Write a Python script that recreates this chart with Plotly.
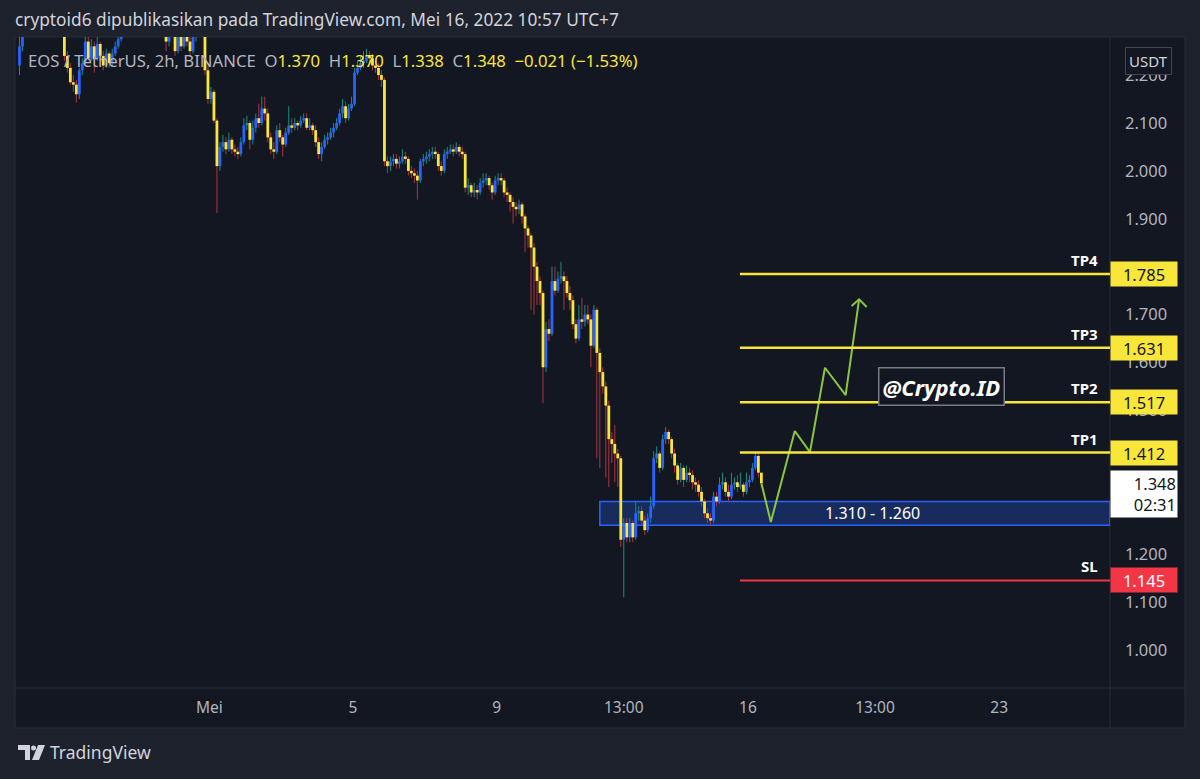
import plotly.graph_objects as go
import pandas as pd

# ---------------- data (EOS/USDT, 2h, BINANCE) ----------------
bar_start = "2022-04-25 17:00"
first_open = 2.22
close = [
    2.26, 2.30, 2.33, 2.36, 2.34, 2.38, 2.41, 2.39, 2.42, 2.40, 2.37, 2.39,
    2.36, 2.38, 2.33, 2.24, 2.215, 2.185, 2.18, 2.16, 2.21, 2.225, 2.27, 2.235,
    2.26, 2.235, 2.265, 2.24, 2.22, 2.245, 2.225, 2.245, 2.26, 2.275, 2.29, 2.31,
    2.34, 2.33, 2.36, 2.38, 2.35, 2.37, 2.40, 2.38, 2.36, 2.37, 2.34, 2.32,
    2.33, 2.27, 2.29, 2.30, 2.25, 2.28, 2.26, 2.29, 2.27, 2.25, 2.28, 2.29,
    2.31, 2.30, 2.21, 2.15, 2.165, 2.105, 2.01, 2.05, 2.06, 2.045, 2.065, 2.045,
    2.04, 2.035, 2.06, 2.095, 2.10, 2.065, 2.09, 2.11, 2.10, 2.13, 2.12, 2.07,
    2.045, 2.04, 2.085, 2.07, 2.055, 2.08, 2.095, 2.09, 2.10, 2.095, 2.105, 2.11,
    2.09, 2.095, 2.085, 2.06, 2.035, 2.05, 2.065, 2.07, 2.08, 2.09, 2.10, 2.12,
    2.135, 2.11, 2.13, 2.14, 2.205, 2.215, 2.225, 2.23, 2.24, 2.235, 2.22, 2.215,
    2.20, 2.19, 2.02, 2.01, 2.02, 2.025, 2.015, 2.02, 2.03, 2.025, 2.00, 1.995,
    1.99, 1.98, 2.02, 2.025, 2.03, 2.035, 2.04, 2.035, 2.01, 2.00, 2.035, 2.04,
    2.045, 2.04, 2.05, 2.04, 2.035, 1.965, 1.97, 1.955, 1.96, 1.955, 1.975, 1.98,
    1.985, 1.97, 1.955, 1.98, 1.985, 1.98, 1.955, 1.95, 1.935, 1.925, 1.92, 1.93,
    1.905, 1.88, 1.865, 1.84, 1.80, 1.77, 1.745, 1.59, 1.67, 1.66, 1.77, 1.75,
    1.775, 1.78, 1.77, 1.745, 1.73, 1.68, 1.65, 1.69, 1.685, 1.70, 1.69, 1.635,
    1.71, 1.62, 1.58, 1.55, 1.51, 1.44, 1.43, 1.41, 1.40, 1.23, 1.265, 1.235,
    1.265, 1.235, 1.285, 1.29, 1.27, 1.25, 1.275, 1.30, 1.40, 1.41, 1.38, 1.44,
    1.455, 1.44, 1.41, 1.385, 1.355, 1.38, 1.355, 1.37, 1.365, 1.35, 1.345, 1.33,
    1.31, 1.285, 1.275, 1.27, 1.32, 1.31, 1.345, 1.35, 1.33, 1.32, 1.345, 1.35,
    1.34, 1.345, 1.33, 1.35, 1.355, 1.38, 1.405, 1.37, 1.348,
]
high = [
    2.28, 2.32, 2.35, 2.38, 2.37, 2.40, 2.43, 2.42, 2.44, 2.43, 2.41, 2.40,
    2.40, 2.39, 2.39, 2.34, 2.25, 2.225, 2.20, 2.19, 2.215, 2.235, 2.28, 2.28,
    2.275, 2.27, 2.28, 2.27, 2.25, 2.255, 2.25, 2.255, 2.27, 2.285, 2.30, 2.32,
    2.35, 2.35, 2.37, 2.39, 2.39, 2.38, 2.41, 2.41, 2.39, 2.38, 2.38, 2.35,
    2.34, 2.34, 2.30, 2.31, 2.31, 2.29, 2.29, 2.30, 2.30, 2.28, 2.29, 2.30,
    2.32, 2.32, 2.31, 2.22, 2.175, 2.17, 2.11, 2.06, 2.075, 2.07, 2.08, 2.07,
    2.055, 2.05, 2.07, 2.11, 2.115, 2.105, 2.105, 2.12, 2.14, 2.155, 2.155, 2.13,
    2.08, 2.06, 2.095, 2.10, 2.075, 2.09, 2.135, 2.11, 2.11, 2.105, 2.115, 2.12,
    2.12, 2.11, 2.10, 2.095, 2.07, 2.06, 2.075, 2.08, 2.09, 2.10, 2.11, 2.13,
    2.15, 2.145, 2.14, 2.155, 2.215, 2.23, 2.24, 2.25, 2.255, 2.25, 2.245, 2.23,
    2.225, 2.21, 2.195, 2.03, 2.03, 2.035, 2.035, 2.03, 2.045, 2.04, 2.03, 2.01,
    2.005, 2.00, 2.025, 2.035, 2.04, 2.045, 2.05, 2.05, 2.04, 2.02, 2.045, 2.05,
    2.055, 2.055, 2.06, 2.055, 2.05, 2.04, 1.985, 1.975, 1.975, 1.97, 1.985, 1.995,
    1.995, 1.99, 1.975, 1.99, 1.995, 1.995, 1.985, 1.965, 1.955, 1.945, 1.935, 1.94,
    1.935, 1.91, 1.885, 1.87, 1.85, 1.81, 1.78, 1.75, 1.685, 1.69, 1.80, 1.80,
    1.79, 1.81, 1.79, 1.78, 1.76, 1.74, 1.69, 1.72, 1.735, 1.72, 1.72, 1.70,
    1.72, 1.715, 1.63, 1.59, 1.56, 1.52, 1.455, 1.47, 1.42, 1.405, 1.275, 1.275,
    1.275, 1.27, 1.31, 1.30, 1.30, 1.28, 1.285, 1.32, 1.415, 1.425, 1.415, 1.45,
    1.465, 1.46, 1.445, 1.42, 1.39, 1.39, 1.385, 1.385, 1.38, 1.375, 1.36, 1.355,
    1.34, 1.315, 1.295, 1.285, 1.33, 1.33, 1.36, 1.37, 1.36, 1.345, 1.37, 1.36,
    1.365, 1.37, 1.35, 1.37, 1.365, 1.39, 1.412, 1.41, 1.37,
]
low = [
    2.20, 2.25, 2.29, 2.32, 2.32, 2.33, 2.37, 2.38, 2.38, 2.39, 2.36, 2.35,
    2.35, 2.34, 2.31, 2.23, 2.205, 2.18, 2.165, 2.143, 2.15, 2.20, 2.22, 2.23,
    2.23, 2.205, 2.23, 2.23, 2.21, 2.215, 2.215, 2.22, 2.24, 2.255, 2.27, 2.285,
    2.30, 2.32, 2.32, 2.35, 2.34, 2.34, 2.36, 2.37, 2.35, 2.35, 2.33, 2.31,
    2.30, 2.25, 2.26, 2.28, 2.24, 2.245, 2.25, 2.255, 2.26, 2.24, 2.245, 2.27,
    2.285, 2.29, 2.20, 2.14, 2.14, 2.10, 1.912, 2.00, 2.04, 2.035, 2.04, 2.035,
    2.03, 2.025, 2.03, 2.055, 2.085, 2.045, 2.055, 2.08, 2.09, 2.095, 2.105, 2.06,
    2.035, 2.025, 2.035, 2.06, 2.03, 2.05, 2.075, 2.08, 2.085, 2.085, 2.09, 2.10,
    2.085, 2.085, 2.075, 2.05, 2.025, 2.02, 2.045, 2.055, 2.065, 2.07, 2.085, 2.095,
    2.11, 2.10, 2.105, 2.125, 2.135, 2.20, 2.21, 2.215, 2.225, 2.225, 2.21, 2.205,
    2.19, 2.175, 2.01, 1.995, 2.00, 2.01, 2.005, 2.005, 2.015, 2.015, 1.99, 1.985,
    1.975, 1.94, 1.975, 2.01, 2.015, 2.02, 2.025, 2.025, 2.00, 1.99, 1.995, 2.025,
    2.035, 2.03, 2.035, 2.03, 2.025, 1.955, 1.95, 1.945, 1.945, 1.94, 1.95, 1.965,
    1.97, 1.96, 1.94, 1.95, 1.97, 1.97, 1.945, 1.935, 1.915, 1.89, 1.905, 1.91,
    1.89, 1.83, 1.84, 1.71, 1.70, 1.72, 1.72, 1.515, 1.58, 1.645, 1.655, 1.74,
    1.745, 1.765, 1.71, 1.735, 1.71, 1.67, 1.64, 1.645, 1.67, 1.675, 1.68, 1.59,
    1.63, 1.40, 1.38, 1.535, 1.36, 1.34, 1.39, 1.35, 1.34, 1.215, 1.11, 1.225,
    1.225, 1.225, 1.23, 1.27, 1.26, 1.24, 1.245, 1.265, 1.295, 1.39, 1.37, 1.375,
    1.43, 1.43, 1.40, 1.37, 1.345, 1.35, 1.34, 1.35, 1.35, 1.335, 1.33, 1.32,
    1.30, 1.275, 1.265, 1.26, 1.265, 1.30, 1.305, 1.335, 1.32, 1.31, 1.315, 1.335,
    1.33, 1.335, 1.32, 1.325, 1.34, 1.35, 1.375, 1.36, 1.338,
]

# 1.800 is hidden behind the TP4 badge in the reference, so it is not listed
price_ticks = [1.0, 1.1, 1.2, 1.3, 1.4, 1.5, 1.6, 1.7, 1.9, 2.0, 2.1, 2.2]
time_ticks = ["2022-05-01", "2022-05-05", "2022-05-09", "2022-05-12 13:00",
              "2022-05-16", "2022-05-19 13:00", "2022-05-23"]
time_labels = ["Mei", "5", "9", "13:00", "16", "13:00", "23"]

level_names = ["TP4", "TP3", "TP2", "TP1", "SL"]
level_prices = [1.785, 1.631, 1.517, 1.412, 1.145]
level_start = "2022-05-15 18:40"
zone_low, zone_high = 1.260, 1.310
zone_start = "2022-05-11 21:00"
zone_label_time = "2022-05-19 11:30"

path_t = ["2022-05-16 09:00", "2022-05-16 15:20", "2022-05-17 07:20", "2022-05-17 17:30",
          "2022-05-18 03:30", "2022-05-18 17:20", "2022-05-19 02:20"]
path_p = [1.348, 1.267, 1.457, 1.413, 1.589, 1.532, 1.732]
head_t = ["2022-05-18 21:20", "2022-05-19 02:20", "2022-05-19 07:25"]
head_p = [1.718, 1.732, 1.716]

watermark_time, watermark_price = "2022-05-21 09:40", 1.549
last_price, countdown = 1.348, "02:31"

x_range = ["2022-04-25 16:00", "2022-05-26 02:05"]
y_range = [0.9205, 2.2795]

# ---------------- styling ----------------
PAGE_BG = "#1e222d"
PANE_BG = "#131722"
GRID = "#2a2e39"
TXT = "#b2b5be"
UP_BODY, DOWN_BODY = "#2962ff", "#f9e63b"
UP_WICK, DOWN_WICK = "#16907d", "#b3333d"
YELLOW = "#f9e63b"
RED = "#f23645"
FONT = "Noto Sans"

L, R, T, B = 18, 1110, 37, 688
def PX(x): return (x - L) / (R - L)
def PY(y): return (B - y) / (B - T)

times = pd.date_range(bar_start, periods=len(close), freq="2h")
opens = [first_open] + close[:-1]

wx = {True: [], False: []}
wy = {True: [], False: []}
bx = {True: [], False: []}
by = {True: [], False: []}
for t, o, h, l, c in zip(times, opens, high, low, close):
    up = c >= o
    wx[up] += [t, t, None]
    wy[up] += [l, h, None]
    bx[up] += [t, t, None]
    by[up] += [o, c, None]

fig = go.Figure()
for up, col in ((True, UP_WICK), (False, DOWN_WICK)):
    fig.add_trace(go.Scatter(x=wx[up], y=wy[up], mode="lines",
                             line=dict(color=col, width=1), hoverinfo="skip"))
for up, col in ((True, UP_BODY), (False, DOWN_BODY)):
    fig.add_trace(go.Scatter(x=bx[up], y=by[up], mode="lines",
                             line=dict(color=col, width=2.8), hoverinfo="skip"))

# projected path
fig.add_trace(go.Scatter(x=path_t + [None] + head_t, y=path_p + [None] + head_p,
                         mode="lines", line=dict(color="#8cc63f", width=2),
                         hoverinfo="skip"))

shapes = []
# chart frame
shapes.append(dict(type="rect", xref="paper", yref="paper", x0=PX(15), x1=PX(1185),
                   y0=PY(728), y1=PY(37), fillcolor=PANE_BG,
                   line=dict(color=GRID, width=1), layer="below"))
shapes.append(dict(type="line", xref="paper", yref="paper", x0=1, x1=1,
                   y0=PY(728), y1=PY(37), line=dict(color=GRID, width=1), layer="below"))
shapes.append(dict(type="line", xref="paper", yref="paper", x0=PX(15), x1=PX(1185),
                   y0=0, y1=0, line=dict(color=GRID, width=1), layer="below"))
# zone
shapes.append(dict(type="rect", xref="x", yref="y", x0=zone_start, x1=x_range[1],
                   y0=zone_low, y1=zone_high, fillcolor="rgba(41,98,255,0.27)",
                   line=dict(color="#2962ff", width=1.5), layer="below"))
# levels
for name, p in zip(level_names, level_prices):
    col = RED if name == "SL" else YELLOW
    shapes.append(dict(type="line", xref="x", yref="y", x0=level_start, x1=x_range[1],
                       y0=p, y1=p, line=dict(color=col, width=2.5 if name != "SL" else 2)))

# TradingView logo
def path(pts):
    return "M " + " L ".join(f"{PX(x):.5f},{PY(y):.5f}" for x, y in pts) + " Z"
LOGO = "#d1d4dc"
shapes.append(dict(type="path", xref="paper", yref="paper",
                   path=path([(18, 745), (30, 745), (30, 760), (25, 760), (25, 750), (18, 750)]),
                   fillcolor=LOGO, line=dict(width=0)))
shapes.append(dict(type="circle", xref="paper", yref="paper", x0=PX(31), x1=PX(36),
                   y0=PY(750.5), y1=PY(745.5), fillcolor=LOGO, line=dict(width=0)))
shapes.append(dict(type="path", xref="paper", yref="paper",
                   path=path([(38, 745), (45, 745), (39, 760), (32, 760)]),
                   fillcolor=LOGO, line=dict(width=0)))

ann = []
ann.append(dict(xref="paper", yref="paper", x=PX(13), y=PY(20), xanchor="left",
                yanchor="middle", showarrow=False,
                text="cryptoid6 dipublikasikan pada TradingView.com, Mei 16, 2022 10:57 UTC+7",
                font=dict(family=FONT, size=17.3, color="#d1d4dc")))
sp = "\u00a0\u00a0"
def g(s): return f"<span style='color:{TXT}'>{s}</span>"
def yv(s): return f"<span style='color:{YELLOW}'>{s}</span>"
legend_txt = (g("EOS / TetherUS, 2h, BINANCE" + sp + "O") + yv("1.370") + g(sp + "H") + yv("1.370")
              + g(sp + "L") + yv("1.338") + g(sp + "C") + yv("1.348") + yv(sp + "\u22120.021 (\u22121.53%)"))
ann.append(dict(xref="paper", yref="paper", x=PX(26), y=PY(61), xanchor="left",
                yanchor="middle", showarrow=False, text=legend_txt,
                font=dict(family=FONT, size=16.7, color=TXT)))
ann.append(dict(xref="paper", yref="paper", x=PX(48), y=PY(752), xanchor="left",
                yanchor="middle", showarrow=False, text="TradingView",
                font=dict(family=FONT, size=17.5, color=LOGO)))
# USDT badge
ann.append(dict(xref="paper", yref="paper", x=PX(1148), y=PY(61), xanchor="center",
                yanchor="middle", showarrow=False, text="USDT",
                font=dict(family=FONT, size=15, color="#d1d4dc"),
                bgcolor=PANE_BG, bordercolor="#434651", borderwidth=1, borderpad=3))
# level labels and price badges
for name, p in zip(level_names, level_prices):
    is_sl = name == "SL"
    ann.append(dict(xref="paper", yref="y", x=PX(1100), y=p, xanchor="right",
                    yanchor="bottom", yshift=2, showarrow=False, text=f"<b>{name}</b>",
                    font=dict(family=FONT, size=15, color="#ffffff")))
    ann.append(dict(xref="paper", yref="y", x=1, y=p, xanchor="left", yanchor="middle",
                    showarrow=False, text=f"{p:.3f}", width=64, height=22, borderpad=1,
                    bgcolor=RED if is_sl else YELLOW,
                    font=dict(family=FONT, size=16.5, color="#ffffff" if is_sl else PANE_BG)))
ann.append(dict(xref="paper", yref="y", x=1, y=last_price, xanchor="left", yanchor="top",
                yshift=13, showarrow=False, text=f"{last_price:.3f}<br>{countdown}",
                width=64, height=44, borderpad=1, bgcolor="#ffffff", align="right",
                font=dict(family=FONT, size=16.5, color=PANE_BG)))
ann.append(dict(xref="x", yref="y", x=zone_label_time, y=(zone_low + zone_high) / 2,
                showarrow=False, text=f"{zone_high:.3f} - {zone_low:.3f}",
                font=dict(family=FONT, size=16, color="#ffffff")))
ann.append(dict(xref="x", yref="y", x=watermark_time, y=watermark_price, showarrow=False,
                text="<b><i>@Crypto.ID</i></b>", bgcolor=PANE_BG, bordercolor="#787b86",
                borderwidth=1.5, borderpad=3,
                font=dict(family=FONT, size=22, color="#ffffff")))

fig.update_layout(
    width=1200, height=779,
    margin=dict(l=L, r=1200 - R, t=T, b=779 - B),
    paper_bgcolor=PAGE_BG, plot_bgcolor=PANE_BG,
    showlegend=False, hovermode=False,
    shapes=shapes, annotations=ann,
    xaxis=dict(type="date", range=x_range, showgrid=False, zeroline=False,
               showline=False, ticks="", tickvals=time_ticks, ticktext=time_labels,
               tickfont=dict(family=FONT, size=15.5, color=TXT), ticklabelstandoff=8,
               fixedrange=True),
    yaxis=dict(side="right", range=y_range, showgrid=False, zeroline=False,
               showline=False, ticks="", tickvals=price_ticks,
               ticktext=[f"{v:.3f}" for v in price_ticks],
               tickfont=dict(family=FONT, size=16.5, color=TXT), ticklabelstandoff=14,
               fixedrange=True),
)

fig.write_html("out.html", config={"displayModeBar": False},
               post_script="document.body.style.margin='0';"
                           "document.body.style.background='#1e222d';")
